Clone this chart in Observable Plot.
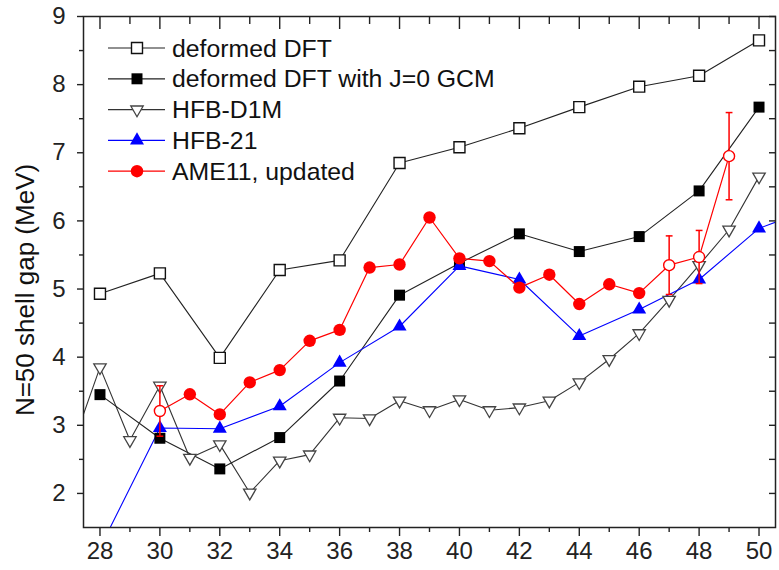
<!DOCTYPE html>
<html><head><meta charset="utf-8">
<script src="https://cdn.jsdelivr.net/npm/d3@7"></script>
<script src="https://cdn.jsdelivr.net/npm/@observablehq/plot@0.6"></script>
<style>
html,body{margin:0;padding:0;background:#fff;}
#wrap{position:relative;width:779px;height:570px;font-family:"Liberation Sans",Arial,sans-serif;}
#legend{position:absolute;left:0;top:0;pointer-events:none;}
</style></head><body><div id="wrap"></div>
<script>
// ---- data ----
const seriesNames = ["deformed DFT", "deformed DFT with J=0 GCM", "HFB-D1M", "HFB-21", "AME11, updated"];

const zDFT = [28, 30, 32, 34, 36, 38, 40, 42, 44, 46, 48, 50];
const dftGap = [4.93, 5.23, 3.99, 5.28, 5.42, 6.85, 7.08, 7.36, 7.67, 7.97, 8.13, 8.65];
const gcmGap = [3.45, 2.81, 2.36, 2.82, 3.65, 4.91, 5.38, 5.81, 5.55, 5.77, 6.44, 7.67];

const zD1M = [27, 28, 29, 30, 31, 32, 33, 34, 35, 36, 37, 38, 39, 40, 41, 42, 43, 44, 45, 46, 47, 48, 49, 50];
const d1mGap = [2.6, 3.85, 2.78, 3.58, 2.52, 2.72, 2.01, 2.48, 2.57, 3.11, 3.10, 3.36, 3.22, 3.38, 3.22, 3.26, 3.36, 3.63, 3.97, 4.35, 4.84, 5.35, 5.87, 6.65];

const zHFB21 = [28, 30, 32, 34, 36, 38, 40, 42, 44, 46, 48, 50, 52];
const hfb21Gap = [1.2, 2.96, 2.95, 3.28, 3.92, 4.45, 5.34, 5.14, 4.31, 4.70, 5.14, 5.89, 6.22];

const zAME = [30, 31, 32, 33, 34, 35, 36, 37, 38, 39, 40, 41, 42, 43, 44, 45, 46, 47, 48, 49];
const ameGap = [3.21, 3.455, 3.16, 3.63, 3.81, 4.24, 4.40, 5.315, 5.36, 6.05, 5.45, 5.41, 5.02, 5.21, 4.78, 5.07, 4.94, 5.35, 5.47, 6.95];
const ameErr = [0.37, 0, 0, 0, 0, 0, 0, 0, 0, 0, 0, 0, 0, 0, 0, 0, 0, 0.43, 0.39, 0.64];
const ameOpen = [true, false, false, false, false, false, false, false, false, false, false, false, false, false, false, false, false, true, true, true];

const xTicks = [28, 30, 32, 34, 36, 38, 40, 42, 44, 46, 48, 50];
const xMinorTicks = [29, 31, 33, 35, 37, 39, 41, 43, 45, 47, 49];
const yTicks = [2, 3, 4, 5, 6, 7, 8, 9];
const yMinorTicks = [2.5, 3.5, 4.5, 5.5, 6.5, 7.5, 8.5];
const yLabel = "N=50 shell gap (MeV)";

// ---- tables ----
const rows = (zs, vs) => zs.map((z, i) => ({z, v: vs[i]}));
const dftRows = rows(zDFT, dftGap);
const gcmRows = rows(zDFT, gcmGap);
const d1mRows = rows(zD1M, d1mGap);
const h21Rows = rows(zHFB21, hfb21Gap);
const ameRows = zAME.map((z, i) => ({z, v: ameGap[i], e: ameErr[i], open: ameOpen[i]}));
const errRows = ameRows.filter(d => d.e > 0);

const capSymbol = {draw(ctx, size) { const r = Math.sqrt(size / Math.PI); ctx.moveTo(-r, 0); ctx.lineTo(r, 0); }};

const INK = "#222";
const FONT = "'Liberation Sans', Arial, sans-serif";

const chart = Plot.plot({
  width: 779, height: 570,
  marginLeft: 83, marginRight: 4, marginTop: 16, marginBottom: 43,
  style: {fontFamily: FONT, fontSize: "24px", color: INK, background: "white"},
  x: {domain: [27.45, 50.55]},
  y: {domain: [1.5, 9]},
  marks: [
    // lines
    Plot.line(d1mRows, {x: "z", y: "v", stroke: "#333", strokeWidth: 1.1, clip: true}),
    Plot.line(dftRows, {x: "z", y: "v", stroke: "#222", strokeWidth: 1.1, clip: true}),
    Plot.line(gcmRows, {x: "z", y: "v", stroke: "#222", strokeWidth: 1.1, clip: true}),
    Plot.line(h21Rows, {x: "z", y: "v", stroke: "#0000ff", strokeWidth: 1.1, clip: true}),
    // markers
    Plot.dot(d1mRows, {x: "z", y: "v", symbol: "triangle", rotate: 180, r: 4.6, fill: "white", stroke: "#444", strokeWidth: 1.3, clip: true}),
    Plot.dot(dftRows, {x: "z", y: "v", symbol: "square", r: 6.2, fill: "white", stroke: "#111", strokeWidth: 1.4, clip: true}),
    Plot.dot(gcmRows, {x: "z", y: "v", symbol: "square", r: 6.2, fill: "#000", stroke: "none", clip: true}),
    Plot.dot(h21Rows, {x: "z", y: "v", symbol: "triangle", r: 5.2, fill: "#0000ff", stroke: "none", clip: true}),
    // AME
    Plot.line(ameRows, {x: "z", y: "v", stroke: "#ff0000", strokeWidth: 1.2}),
    Plot.ruleX(errRows, {x: "z", y1: d => d.v - d.e, y2: d => d.v + d.e, stroke: "#ff0000", strokeWidth: 1.5}),
    Plot.dot(errRows, {x: "z", y: d => d.v - d.e, symbol: capSymbol, r: 3.4, stroke: "#ff0000", strokeWidth: 1.5}),
    Plot.dot(errRows, {x: "z", y: d => d.v + d.e, symbol: capSymbol, r: 3.4, stroke: "#ff0000", strokeWidth: 1.5}),
    Plot.dot(ameRows.filter(d => !d.open), {x: "z", y: "v", r: 6.2, fill: "#ff0000", stroke: "none"}),
    Plot.dot(ameRows.filter(d => d.open), {x: "z", y: "v", r: 5.5, fill: "white", stroke: "#ff0000", strokeWidth: 1.4}),
    // axes
    Plot.axisX({anchor: "bottom", ticks: xTicks, tickSize: 9, tickPadding: 5, tickFormat: d => String(d), label: null, fontSize: 24, stroke: INK, strokeWidth: 1.4}),
    Plot.axisX({anchor: "bottom", ticks: xMinorTicks, tickSize: 5, text: null, label: null, stroke: INK, strokeWidth: 1.4}),
    Plot.axisX({anchor: "top", ticks: xTicks, tickSize: -12, text: null, label: null, stroke: INK, strokeWidth: 1.4}),
    Plot.axisX({anchor: "top", ticks: xMinorTicks, tickSize: -7, text: null, label: null, stroke: INK, strokeWidth: 1.4}),
    Plot.axisY({anchor: "left", ticks: yTicks, tickSize: 6, tickPadding: 12, tickFormat: d => String(d), label: null, fontSize: 24, stroke: INK, strokeWidth: 1.4}),
    Plot.axisY({anchor: "left", ticks: yMinorTicks, tickSize: 4, text: null, label: null, stroke: INK, strokeWidth: 1.4}),
    Plot.axisY({anchor: "right", ticks: yTicks, tickSize: -7, text: null, label: null, stroke: INK, strokeWidth: 1.4}),
    Plot.axisY({anchor: "right", ticks: yMinorTicks, tickSize: -7, text: null, label: null, stroke: INK, strokeWidth: 1.4}),
    Plot.frame({stroke: INK, strokeWidth: 1.5}),
    Plot.text([yLabel], {frameAnchor: "left", textAnchor: "middle", rotate: -90, dx: -58, dy: 18, fontSize: 26, fill: "#111", text: d => d})
  ]
});

const wrap = document.getElementById("wrap");
wrap.appendChild(chart);

// ---- legend (overlay inside the frame, top-left) ----
const legendStyles = [
  {line: "#222", shape: "square", fill: "white", stroke: "#111"},
  {line: "#222", shape: "square", fill: "#000", stroke: "none"},
  {line: "#333", shape: "tri-down", fill: "white", stroke: "#444"},
  {line: "#0000ff", shape: "tri-up", fill: "#0000ff", stroke: "none"},
  {line: "#ff0000", shape: "circle", fill: "#ff0000", stroke: "none"}
];
const leg = d3.select(wrap).append("svg").attr("id", "legend").attr("width", 779).attr("height", 570);
const sq = d3.symbol(d3.symbolSquare, Math.PI * 6.2 * 6.2)();
const tri = d3.symbol(d3.symbolTriangle, Math.PI * 5.2 * 5.2)();
const triD = d3.symbol(d3.symbolTriangle, Math.PI * 4.6 * 4.6)();
seriesNames.forEach((name, i) => {
  const s = legendStyles[i];
  const cy = 48 + i * 30.8;
  const g = leg.append("g").attr("transform", `translate(0,${cy})`);
  g.append("line").attr("x1", 108).attr("x2", 165).attr("y1", 0).attr("y2", 0).attr("stroke", s.line).attr("stroke-width", 1.2);
  const m = g.append("g").attr("transform", "translate(137,0)");
  if (s.shape === "square") m.append("path").attr("d", sq).attr("fill", s.fill).attr("stroke", s.stroke).attr("stroke-width", 1.4);
  if (s.shape === "tri-up") m.append("path").attr("d", tri).attr("fill", s.fill);
  if (s.shape === "tri-down") m.append("path").attr("d", triD).attr("transform", "rotate(180)").attr("fill", s.fill).attr("stroke", s.stroke).attr("stroke-width", 1.3);
  if (s.shape === "circle") m.append("circle").attr("r", 6.2).attr("fill", s.fill);
  g.append("text").attr("x", 172).attr("y", 8.5).attr("font-family", FONT).attr("font-size", 24.8).attr("fill", "#111").text(name);
});
</script>
</body></html>
